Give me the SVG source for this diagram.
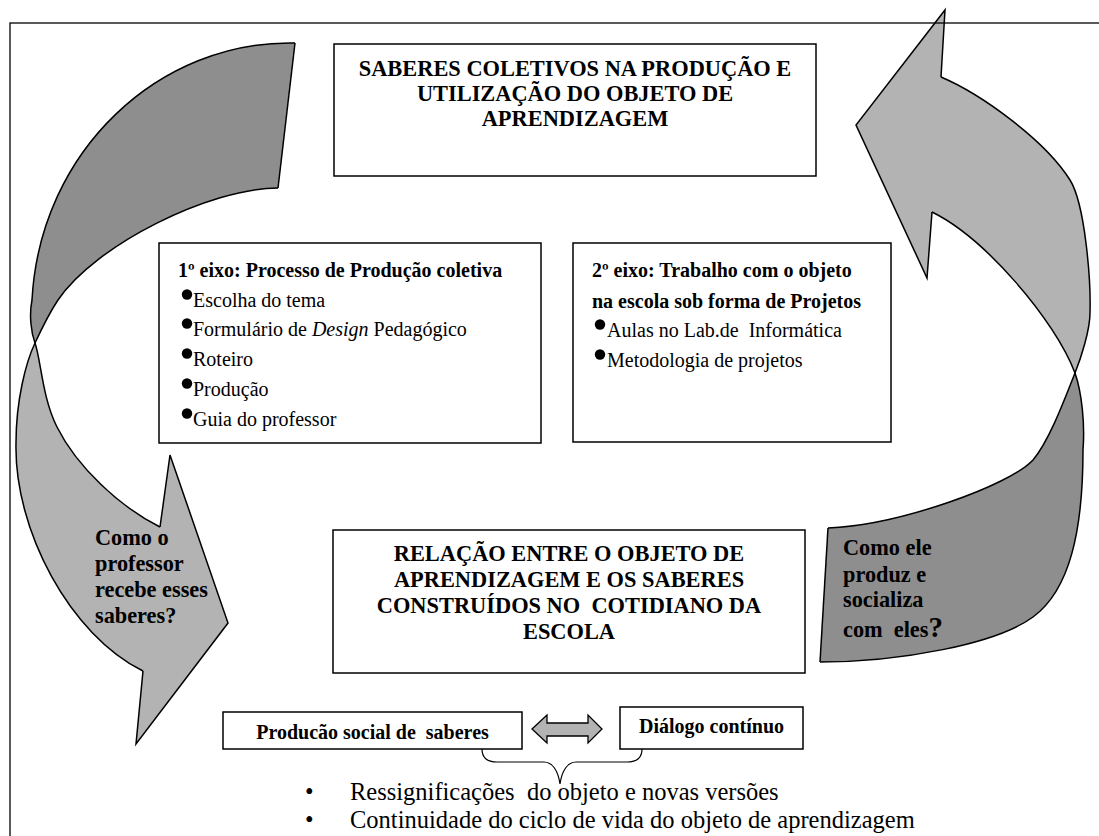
<svg xmlns="http://www.w3.org/2000/svg" width="1099" height="836" viewBox="0 0 1099 836" xml:space="preserve">
<style>
text { font-family: "Liberation Serif", "Times New Roman", serif; fill: #000; white-space: pre; }
.title { font-size: 22.4px; font-weight: bold; text-anchor: middle; }
.lab { font-size: 22.3px; font-weight: bold; }
.body { font-size: 20px; }
.hd { font-size: 20px; font-weight: bold; }
.big { font-size: 24.5px; }
.box { fill: #fff; stroke: #000; stroke-width: 1.5; }
.dark { fill: #8e8e8e; stroke: none; }
.light { fill: #b3b3b3; stroke: none; }
.edge { fill: none; stroke: #000; stroke-width: 1.5; stroke-linejoin: miter; }
.dot { fill: #000; }
.frame { fill: none; stroke: #000; stroke-width: 1.3; }
</style>

<g id="arrow-left">
  <path class="dark" d="M295,43 C160,40 40,150 32,300 C29,315 31,332 35,343 C42,328 50,312 58,300 C95,245 210,188 278,188 Z"/>
  <path class="light" d="M35,343 C41,360 42,397 57,427 C77,467 120,507 160,527 L170,455 L228,623 L136,744 L143,671 C70,635 14,530 16,443 C16,400 26,362 35,343 Z"/>
  <path class="edge" d="M295,43 C160,40 40,150 32,300 C29,315 31,332 35,343 C41,360 42,397 57,427 C77,467 120,507 160,527"/>
  <path class="edge" d="M278,188 C210,188 95,245 58,300 C50,312 42,328 35,343 C26,362 16,400 16,443 C14,530 70,635 143,671"/>
  <path class="edge" d="M295,43 L278,188"/>
  <path class="edge" d="M160,527 L170,455 L228,623 L136,744 L143,671"/>
  <text class="lab" x="95" y="545">Como o</text>
  <text class="lab" x="95" y="571">professor</text>
  <text class="lab" x="95" y="597">recebe esses</text>
  <text class="lab" x="95" y="623">saberes?</text>
</g>

<g id="arrow-right">
  <path class="light" d="M932,212 C985,238 1055,320 1075,373 C1081,358 1090,330 1090,313 C1091,280 1085,204 1070,180 C1045,140 981,94 941,77 L945,10 L856,125 L927,278 Z"/>
  <path class="dark" d="M1075,373 C1067,393 1050,440 1033,460 C1010,485 900,525 828,528 L820,662 C900,662 996,644 1033,617 C1070,590 1083,530 1083,450 C1085,425 1082,393 1075,373 Z"/>
  <path class="edge" d="M932,212 C985,238 1055,320 1075,373 C1082,393 1085,425 1083,450 C1083,530 1070,590 1033,617 C996,644 900,662 820,662"/>
  <path class="edge" d="M941,77 C981,94 1045,140 1070,180 C1085,204 1091,280 1090,313 C1090,330 1081,358 1075,373 C1067,393 1050,440 1033,460 C1010,485 900,525 828,528"/>
  <path class="edge" d="M941,77 L945,10 L856,125 L927,278 L932,212"/>
  <path class="edge" d="M828,528 L820,662"/>
  <text class="lab" x="843" y="555">Como ele</text>
  <text class="lab" x="843" y="582">produz e</text>
  <text class="lab" x="843" y="607">socializa</text>
  <text class="lab" x="843" y="637">com  eles<tspan font-size="29">?</tspan></text>
</g>

<rect id="frame" class="frame" x="10" y="23" width="1200" height="900"/>

<g id="box-top">
  <rect class="box" x="334" y="44" width="482" height="132"/>
  <text class="title" x="575" y="76">SABERES COLETIVOS NA PRODUÇÃO E</text>
  <text class="title" x="575" y="101">UTILIZAÇÃO DO OBJETO DE</text>
  <text class="title" x="575" y="126">APRENDIZAGEM</text>
</g>

<g id="box-eixo1">
  <rect class="box" x="159" y="243" width="382" height="200"/>
  <text class="hd" x="178" y="277">1º eixo: Processo de Produção coletiva</text>
  <circle class="dot" cx="187" cy="294.5" r="5.2"/>
  <circle class="dot" cx="187" cy="323.5" r="5.2"/>
  <circle class="dot" cx="187" cy="353.5" r="5.2"/>
  <circle class="dot" cx="187" cy="383.5" r="5.2"/>
  <circle class="dot" cx="187" cy="413.5" r="5.2"/>
  <text class="body" x="193" y="307">Escolha do tema</text>
  <text class="body" x="193" y="336">Formulário de <tspan font-style="italic">Design</tspan> Pedagógico</text>
  <text class="body" x="193" y="366">Roteiro</text>
  <text class="body" x="193" y="396">Produção</text>
  <text class="body" x="193" y="426">Guia do professor</text>
</g>

<g id="box-eixo2">
  <rect class="box" x="573" y="243" width="318" height="199"/>
  <text class="hd" x="592" y="277">2º eixo: Trabalho com o objeto</text>
  <text class="hd" x="592" y="308">na escola sob forma de Projetos</text>
  <circle class="dot" cx="600" cy="324.5" r="5.2"/>
  <circle class="dot" cx="600" cy="354.5" r="5.2"/>
  <text class="body" x="607" y="337">Aulas no Lab.de  Informática</text>
  <text class="body" x="607" y="367">Metodologia de projetos</text>
</g>

<g id="box-relacao">
  <rect class="box" x="333" y="530" width="472" height="143"/>
  <text class="title" x="569" y="561">RELAÇÃO ENTRE O OBJETO DE</text>
  <text class="title" x="569" y="587">APRENDIZAGEM E OS SABERES</text>
  <text class="title" x="569" y="613">CONSTRUÍDOS NO  COTIDIANO DA</text>
  <text class="title" x="569" y="639">ESCOLA</text>
</g>

<g id="box-producao">
  <rect class="box" x="223" y="712" width="299" height="37"/>
  <text class="hd" x="372.5" y="739" text-anchor="middle">Producão social de  saberes</text>
</g>

<g id="box-dialogo">
  <rect class="box" x="620" y="707" width="183" height="42"/>
  <text class="hd" x="711.5" y="733" text-anchor="middle">Diálogo contínuo</text>
</g>

<g id="connectors">
  <path class="light" style="stroke:#000;stroke-width:1.3" d="M532,729 L547,715 L547,723 L588,723 L588,715 L602,729 L588,743 L588,736 L547,736 L547,743 Z"/>
  <path fill="none" stroke="#000" stroke-width="1.2" d="M482,749 C482,757 487,762 497,762 L544,762 C552,762 558,770 560,784 C562,770 568,762 576,762 L627,762 C637,762 642,757 642,749"/>
</g>

<g id="outcomes">
  <text class="big" x="305" y="800">•</text>
  <text class="big" x="350" y="800">Ressignificações  do objeto e novas versões</text>
  <text class="big" x="305" y="828">•</text>
  <text class="big" x="350" y="828">Continuidade do ciclo de vida do objeto de aprendizagem</text>
</g>
</svg>
